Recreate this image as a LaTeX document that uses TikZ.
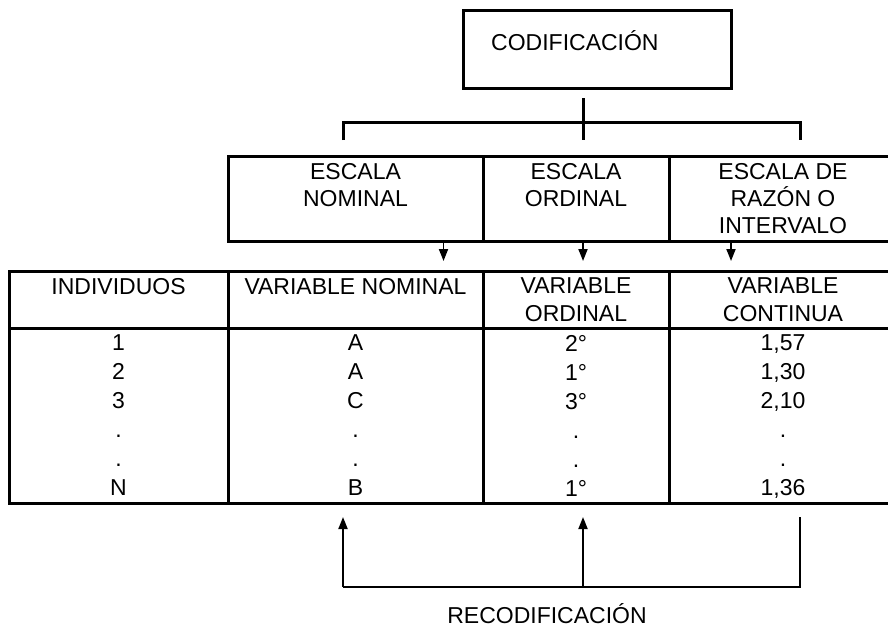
\documentclass[tikz,border=0pt]{standalone}
\usepackage{fontspec}
\setmainfont{Liberation Sans}
\usetikzlibrary{positioning,arrows.meta}

\begin{document}
\begin{tikzpicture}[x=1pt,y=-1pt,
txt/.style={font=\fontsize{23}{27}\selectfont,align=center,inner sep=0pt},
hdr/.style={font=\fontsize{23}{28}\selectfont,align=center,inner sep=0pt},
vals/.style={font=\fontsize{23}{29}\selectfont,align=center,inner sep=0pt},
box/.style={draw,line width=3pt,inner sep=0pt,outer sep=0pt,anchor=north west},
cell/.style={box,minimum height=57pt},
datacell/.style={box,minimum height=175pt},
line/.style={line width=3pt},
recline/.style={line width=2.5pt},
arrow/.style={-{Triangle[length=12pt,width=9pt]},line width=1.8pt}
]
\useasboundingbox (0,0) rectangle (888,627);

% codificacion
\node[box,minimum width=268pt,minimum height=78pt] (cod) at (463,10) {};
\node[txt,anchor=base west] (codt) at (491,50) {CODIFICACIÓN};

% escalas
\node[box,minimum width=255pt,minimum height=85pt] (nom) at (228,156) {};
\node[box,minimum width=186pt,minimum height=85pt,right=0pt of nom] (ord) {};
\node[box,minimum width=228pt,minimum height=85pt,right=0pt of ord] (raz) {};
\node[txt,below=7.6pt of nom.north] (nomt) {ESCALA\\NOMINAL};
\node[txt,below=7.6pt of ord.north] (ordt) {ESCALA\\ORDINAL};
\node[txt,below=7.6pt of raz.north] (razt) {ESCALA DE\\RAZÓN O\\INTERVALO};

\coordinate (bl) at (343,140);
\coordinate (br) at (800,140);
\draw[line] ([xshift=-14pt,yshift=-10pt]cod.south) -- ++(0,42);
\draw[line] (bl) -- ++(0,-18) -| (br);

% tabla
\node[cell,minimum width=219pt] (hInd) at (9,271) {};
\node[cell,minimum width=255pt,right=0pt of hInd] (hNom) {};
\node[cell,minimum width=186pt,right=0pt of hNom] (hOrd) {};
\node[cell,minimum width=228pt,right=0pt of hOrd] (hCon) {};
\node[hdr,below=6.75pt of hInd.north] (hIndt) {INDIVIDUOS};
\node[hdr,below=6.75pt of hNom.north] (hNomt) {VARIABLE NOMINAL};
\node[hdr,below=6.75pt of hOrd.north] (hOrdt) {VARIABLE\\ORDINAL};
\node[hdr,below=6.75pt of hCon.north] (hCont) {VARIABLE\\CONTINUA};

\node[datacell,minimum width=219pt,below=0pt of hInd] (dInd) {};
\node[datacell,minimum width=255pt,below=0pt of hNom] (dNom) {};
\node[datacell,minimum width=186pt,below=0pt of hOrd] (dOrd) {};
\node[datacell,minimum width=228pt,below=0pt of hCon] (dCon) {};
\node[vals,below=6.75pt of dInd.north] (vInd) {1\\2\\3\\.\\.\\N};
\node[vals,below=6.75pt of dNom.north] (vNom) {A\\A\\C\\.\\.\\B};
\node[vals,below=6.75pt of dOrd.north] (vOrd) {2°\\1°\\3°\\.\\.\\1°};
\node[vals,below=6.75pt of dCon.north] (vCon) {1,57\\1,30\\2,10\\.\\.\\1,36};

\draw[arrow] ([xshift=88pt]nom.south) -- ([xshift=88pt,yshift=10pt]hNom.north);
\draw[arrow] ([xshift=7pt]ord.south) -- ([xshift=7pt,yshift=10pt]hOrd.north);
\draw[arrow] ([xshift=-52pt]raz.south) -- ([xshift=-52pt,yshift=10pt]hCon.north);

% recodificacion
\coordinate (rr) at ([xshift=17pt,yshift=-84pt]dCon.south);
\coordinate (rl) at ([xshift=-12.5pt,yshift=-84pt]dNom.south);
\draw[recline] ([xshift=17pt,yshift=-14pt]dCon.south) -- (rr) -- (rl);
\draw[arrow] (rl) -- ([xshift=-12.5pt,yshift=-14pt]dNom.south);
\draw[arrow] ([xshift=7pt,yshift=-84pt]dOrd.south) -- ([xshift=7pt,yshift=-14pt]dOrd.south);
\node[txt,anchor=base] (recod) at (547,623) {RECODIFICACIÓN};
\end{tikzpicture}
\end{document}
